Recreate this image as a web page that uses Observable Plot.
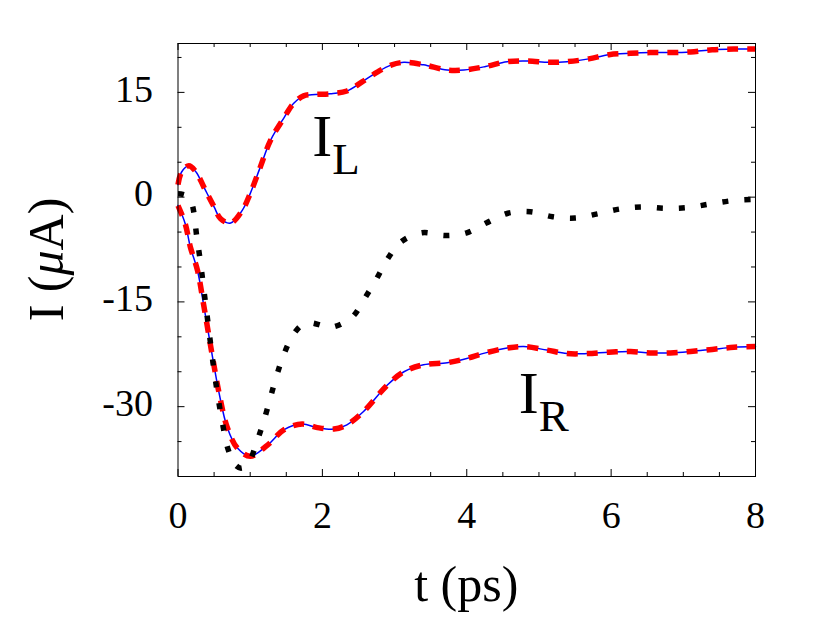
<!DOCTYPE html>
<html>
<head>
<meta charset="utf-8">
<script src="https://cdn.jsdelivr.net/npm/d3@7"></script>
<script src="https://cdn.jsdelivr.net/npm/@observablehq/plot@0.6"></script>
<style>
  html, body { margin: 0; padding: 0; background: #fff; }
  #chart svg { display: block; }
  #chart svg text { font-family: 'Liberation Serif', 'Times New Roman', Times, serif; }
</style>
</head>
<body>
<div id="chart"></div>
<script>
// I_L (left current)
const tL = [0, 0.05, 0.15, 0.25, 0.36, 0.5, 0.59, 0.73, 0.89, 1.0, 1.14, 1.28, 1.47, 1.6, 1.74, 1.9, 2.11, 2.34, 2.55, 2.76, 2.95, 3.13, 3.4, 3.73, 3.96, 4.26, 4.56, 4.84, 5.14, 5.39, 5.69, 5.97, 6.27, 6.54, 6.82, 7.10, 7.40, 7.70, 8.0];
const IL = [1.8, 3.6, 4.5, 3.6, 1.4, -1.4, -3.1, -3.7, -1.9, 0.5, 4.3, 8.1, 11.4, 13.4, 14.5, 14.7, 14.8, 15.2, 16.5, 17.9, 18.9, 19.3, 18.95, 18.2, 18.2, 18.7, 19.4, 19.5, 19.3, 19.4, 19.8, 20.4, 20.6, 20.7, 20.7, 20.8, 21.1, 21.2, 21.2];

// I_R (right current)
const tR = [0, 0.1, 0.17, 0.27, 0.36, 0.47, 0.57, 0.68, 0.82, 1.0, 1.24, 1.47, 1.72, 1.93, 2.16, 2.34, 2.57, 2.9, 3.13, 3.4, 3.73, 4.0, 4.26, 4.56, 4.79, 5.11, 5.39, 5.67, 5.97, 6.27, 6.54, 6.82, 7.10, 7.40, 7.70, 8.0];
const IR = [-1.2, -3.8, -7.1, -10.5, -15.7, -22.4, -28.1, -32.9, -35.9, -37.1, -35.5, -33.3, -32.5, -33.0, -33.2, -32.6, -30.7, -26.9, -25.0, -24.0, -23.7, -23.1, -22.3, -21.6, -21.4, -21.9, -22.4, -22.4, -22.2, -22.1, -22.3, -22.3, -22.1, -21.8, -21.5, -21.4];

// total (dotted)
const tTot = [0, 0.15, 0.27, 0.39, 0.51, 0.61, 0.7, 0.8, 0.88, 0.98, 1.09, 1.19, 1.36, 1.46, 1.59, 1.72, 1.84, 2.0, 2.14, 2.41, 2.58, 2.75, 2.9, 3.09, 3.38, 3.7, 4.0, 4.27, 4.57, 4.88, 5.19, 5.5, 5.81, 6.12, 6.43, 6.74, 7.05, 7.36, 7.68, 8.0];
const Itot = [0.5, 0, -6.4, -15.9, -25.6, -32, -36.3, -38.4, -38.8, -38.0, -35.1, -32, -25.8, -22.7, -19.8, -18.3, -18, -18.4, -18.6, -17.2, -14.6, -11.7, -8.9, -6.4, -5.1, -5.5, -5.1, -3.7, -2.3, -2.1, -2.8, -3.0, -2.4, -1.7, -1.4, -1.6, -1.5, -1.0, -0.5, -0.3];

// ticks
const xMajor = [0, 2, 4, 6, 8];
const xMinor = [0.5, 1, 1.5, 2.5, 3, 3.5, 4.5, 5, 5.5, 6.5, 7, 7.5];
const yMajor = [-30, -15, 0, 15];
const yMinor = [-35, -25, -20, -10, -5, 5, 10, 20];

// curve labels
const labelMain = ["I", "I"];
const labelSub = ["L", "R"];
const labelT = [1.86, 4.72];
const labelV = [8.7, -28.2];

const L = tL.map((t, i) => ({t, v: IL[i]}));
const R = tR.map((t, i) => ({t, v: IR[i]}));
const T = tTot.map((t, i) => ({t, v: Itot[i]}));
const labels = labelMain.map((m, i) => ({main: m, sub: labelSub[i], t: labelT[i], v: labelV[i]}));

const W = 830, H = 623;
const mL = 177.5, mR = 75, mT = 43, mB = 147;
const innerW = W - mL - mR, innerH = H - mT - mB;
const font = "'Liberation Serif', 'Times New Roman', Times, serif";
const majorLen = 7, minorLen = 4;

const svg = Plot.plot({
  width: W,
  height: H,
  marginLeft: mL,
  marginRight: mR,
  marginTop: mT,
  marginBottom: mB,
  style: {fontFamily: font, background: "#fff", color: "#000"},
  x: {domain: [0, 8]},
  y: {domain: [-40, 22]},
  marks: [
    Plot.axisX(xMajor, {tickSize: 0, tickPadding: 25, fontSize: 38, fontFamily: font, tickFormat: d => String(d), label: null}),
    Plot.axisY(yMajor, {tickSize: 0, tickPadding: 25, dy: -3, fontSize: 38, fontFamily: font, tickFormat: d => String(d), label: null}),
    // inward ticks on all four sides
    Plot.tickX(xMajor, {x: d => d, insetTop: innerH - majorLen, stroke: "#000"}),
    Plot.tickX(xMajor, {x: d => d, insetBottom: innerH - majorLen, stroke: "#000"}),
    Plot.tickX(xMinor, {x: d => d, insetTop: innerH - minorLen, stroke: "#000"}),
    Plot.tickX(xMinor, {x: d => d, insetBottom: innerH - minorLen, stroke: "#000"}),
    Plot.tickY(yMajor, {y: d => d, insetRight: innerW - majorLen, stroke: "#000"}),
    Plot.tickY(yMajor, {y: d => d, insetLeft: innerW - majorLen, stroke: "#000"}),
    Plot.tickY(yMinor, {y: d => d, insetRight: innerW - minorLen, stroke: "#000"}),
    Plot.tickY(yMinor, {y: d => d, insetLeft: innerW - minorLen, stroke: "#000"}),
    // solid blue lines
    Plot.line(L, {x: "t", y: "v", stroke: "#0000ff", strokeWidth: 1.5, curve: "catmull-rom"}),
    Plot.line(R, {x: "t", y: "v", stroke: "#0000ff", strokeWidth: 1.5, curve: "catmull-rom"}),
    // red dashed overlays
    Plot.line(L, {x: "t", y: "v", stroke: "#ff0000", strokeWidth: 5.5, strokeDasharray: "11,9", strokeLinecap: "butt", curve: "catmull-rom"}),
    Plot.line(R, {x: "t", y: "v", stroke: "#ff0000", strokeWidth: 5.5, strokeDasharray: "11,9", strokeLinecap: "butt", curve: "catmull-rom"}),
    // black dotted total
    Plot.line(T, {x: "t", y: "v", stroke: "#000", strokeWidth: 5.5, strokeDasharray: "6,16", strokeLinecap: "butt", curve: "catmull-rom"}),
    // labels
    Plot.text(labels, {x: "t", y: "v", text: "main", textAnchor: "start", fontSize: 60, fontFamily: font, fill: "#000"}),
    Plot.text(labels, {x: "t", y: "v", text: "sub", textAnchor: "start", fontSize: 45, fontFamily: font, dx: 20, dy: 23, fill: "#000"}),
    Plot.frame({stroke: "#000", strokeWidth: 1})
  ]
});

const s = d3.select(svg);
// x-axis title
s.append("text")
  .attr("x", mL + innerW / 2)
  .attr("y", 601)
  .attr("text-anchor", "middle")
  .attr("font-size", 50)
  .attr("fill", "#000")
  .text("t (ps)");
// y-axis title
const yt = s.append("text")
  .attr("transform", `translate(63,${mT + innerH / 2}) rotate(-90)`)
  .attr("text-anchor", "middle")
  .attr("font-size", 50)
  .attr("fill", "#000");
yt.append("tspan").text("I (");
yt.append("tspan").attr("font-style", "italic").text("μ");
yt.append("tspan").text("A)");

// force the serif family on every text element
s.selectAll("text").style("font-family", font).attr("font-family", font);

document.getElementById("chart").appendChild(svg);
</script>
</body>
</html>
